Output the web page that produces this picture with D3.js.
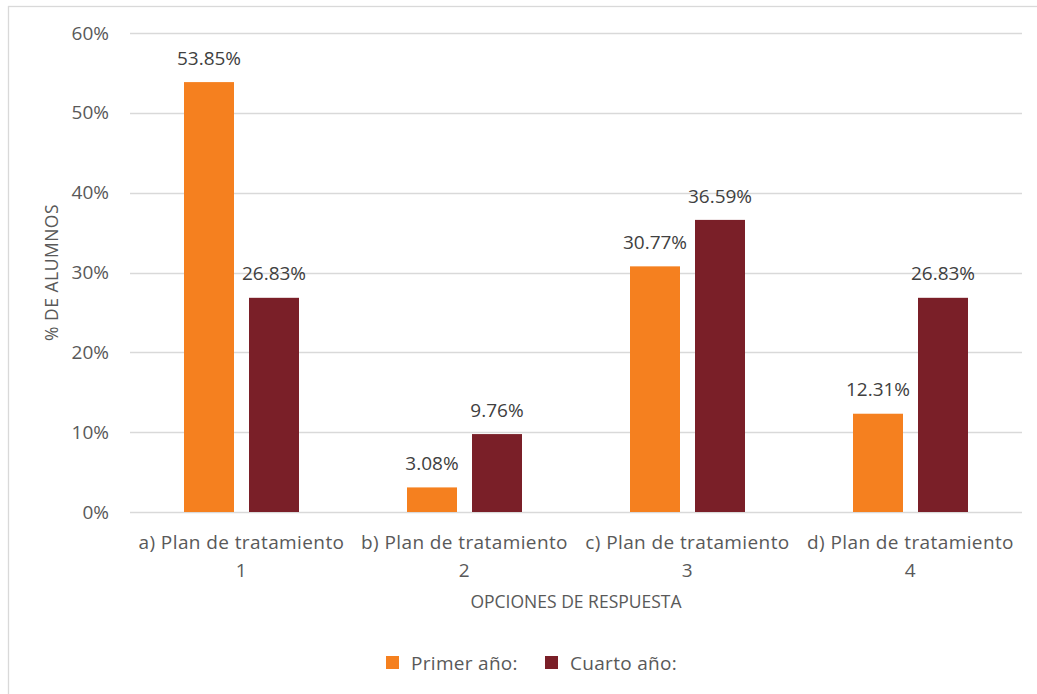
<!DOCTYPE html>
<html><head><meta charset="utf-8">
<script src="https://cdn.jsdelivr.net/npm/d3@7"></script>
<style>body{margin:0;background:#fff;} text{font-family:"Open Sans",sans-serif;fill:#595959;}</style>
</head><body>
<svg id="c" width="1037" height="694"></svg>
<script>
const categories = [["a) Plan de tratamiento","1"],["b) Plan de tratamiento","2"],["c) Plan de tratamiento","3"],["d) Plan de tratamiento","4"]];
const seriesNames = ["Primer año:", "Cuarto año:"];
const primerAno = [53.85, 3.08, 30.77, 12.31];
const cuartoAno = [26.83, 9.76, 36.59, 26.83];
const yTicks = [0,10,20,30,40,50,60];
const colors = ["#F5801F", "#7A1F28"];

const svg = d3.select("#c");
svg.append("rect").attr("x",8.5).attr("y",6.5).attr("width",1040).attr("height",700)
  .attr("fill","none").attr("stroke","#d9d9d9").attr("stroke-width",1.3);

const L=130,R=1022,T=33,B=512;
const y = d3.scaleLinear().domain([0,60]).range([B,T]);
const x0 = d3.scaleBand().domain(d3.range(categories.length)).range([L,R]).padding(0);
const x1 = d3.scaleBand().domain(d3.range(2)).range([(x0.bandwidth()-115)/2,(x0.bandwidth()+115)/2]).paddingInner(15/65);

svg.append("g").selectAll("line").data(yTicks).join("line")
  .attr("x1",L).attr("x2",R).attr("y1",d=>Math.round(y(d))+0.5).attr("y2",d=>Math.round(y(d))+0.5)
  .attr("stroke","#d9d9d9").attr("stroke-width",1.3);
svg.append("g").selectAll("text").data(yTicks).join("text")
  .attr("x",L-21).attr("y",d=>y(d)).attr("dy","0.35em").attr("text-anchor","end")
  .style("font-size","19px").text(d=>d+"%");

const series=[primerAno,cuartoAno];
series.forEach((vals,si)=>{
  const g=svg.append("g");
  g.selectAll("rect").data(vals).join("rect")
    .attr("x",(d,i)=>x0(i)+x1(si)).attr("width",x1.bandwidth())
    .attr("y",d=>y(d)).attr("height",d=>B-y(d)).attr("fill",colors[si]);
  g.selectAll("text").data(vals).join("text")
    .attr("x",(d,i)=>x0(i)+x1(si)+x1.bandwidth()/2).attr("y",d=>y(d)-24).attr("dy","0.35em")
    .attr("text-anchor","middle").style("font-size","19px").style("fill","#404040").text(d=>d.toFixed(2)+"%");
});

const cl=svg.append("g");
categories.forEach((c,i)=>{
  c.forEach((line,li)=>{
    cl.append("text").attr("x",x0(i)+x0.bandwidth()/2).attr("y",542+li*28).attr("dy","0.35em")
      .attr("text-anchor","middle").style("font-size","19px").style("letter-spacing","0.4px").text(line);
  });
});

svg.append("text").attr("transform",`translate(52,${(T+B)/2}) rotate(-90)`).attr("dy","0.35em")
  .attr("text-anchor","middle").style("font-size","17.5px").style("letter-spacing","0.5px").text("% DE ALUMNOS");
svg.append("text").attr("x",(L+R)/2).attr("y",602).attr("dy","0.35em")
  .attr("text-anchor","middle").style("font-size","17.5px").text("OPCIONES DE RESPUESTA");

const legX=[386,545];
seriesNames.forEach((n,i)=>{
  svg.append("rect").attr("x",legX[i]).attr("y",656).attr("width",13).attr("height",13).attr("fill",colors[i]);
  svg.append("text").attr("x",legX[i]+25).attr("y",663).attr("dy","0.35em").style("font-size","19px").style("letter-spacing","0.3px").text(n);
});
</script>
</body></html>
